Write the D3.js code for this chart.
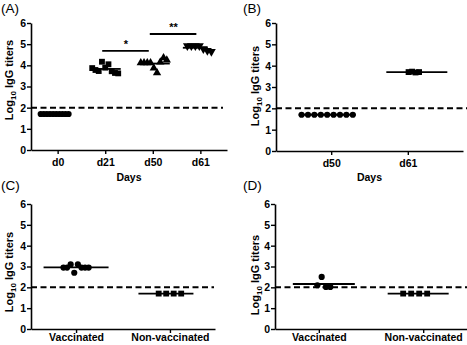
<!DOCTYPE html>
<html>
<head>
<meta charset="utf-8">
<script src="https://cdn.jsdelivr.net/npm/d3@7"></script>
<style>
  html, body { margin: 0; padding: 0; background: #fff; }
  svg { display: block; font-family: "Liberation Sans", Arial, sans-serif; }
</style>
</head>
<body>
<svg id="chart" width="467" height="345"></svg>
<script>
// ---------- DATA ----------
const yTickValues = [0, 1, 2, 3, 4, 5, 6];
const cutoff = 2;

// Panel A
const daysA = ["d0", "d21", "d50", "d61"];
const a_d0  = [1.7, 1.7, 1.7, 1.7, 1.7, 1.7, 1.7, 1.7, 1.7, 1.7];
const a_d21 = [3.87, 3.78, 3.73, 4.17, 3.89, 4.05, 3.72, 3.64, 3.62];
const a_d50 = [4.12, 4.12, 4.12, 4.12, 3.87, 3.65, 4.15, 4.35, 4.25];
const a_d61 = [4.92, 4.92, 4.92, 4.92, 4.78, 4.70, 4.65];
const sigFrom  = ["d21", "d50"];
const sigTo    = ["d50", "d61"];
const sigLevel = [4.68, 5.48];
const sigLabel = ["*", "**"];

// Panel B
const daysB = ["d50", "d61"];
const b_d50 = [1.7, 1.7, 1.7, 1.7, 1.7, 1.7, 1.7, 1.7, 1.7];
const b_d61 = [3.70, 3.72, 3.68, 3.70];

// Panels C and D
const groupsCD = ["Vaccinated", "Non-vaccinated"];
const c_vacc    = [2.95, 2.95, 3.10, 2.70, 3.10, 2.95, 2.95, 2.95];
const c_nonvacc = [1.7, 1.7, 1.7, 1.7];
const d_vacc    = [2.10, 2.50, 2.02, 2.02];
const d_nonvacc = [1.7, 1.7, 1.7, 1.7];

// ---------- DRAWING ----------
const svg = d3.select("#chart");

const shapes = {
  circle:  { type: d3.symbolCircle,   size: 30, rot: 0 },
  square:  { type: d3.symbolSquare,   size: 34, rot: 0 },
  tri:     { type: d3.symbolTriangle, size: 30, rot: 0 },
  invtri:  { type: d3.symbolTriangle, size: 34, rot: 180 }
};

function drawPanel(cfg) {
  const g = svg.append("g");
  const x = d3.scalePoint().domain(cfg.cats).range([cfg.x0, cfg.x1]).padding(cfg.pad);
  const y = d3.scaleLinear().domain([0, 6]).range([cfg.yb, cfg.yt]);

  // panel label
  g.append("text").attr("x", cfg.labelX).attr("y", cfg.labelY)
    .attr("font-size", 13.5).attr("fill", "#000").text(cfg.label);

  // y axis
  const ya = g.append("g").attr("transform", `translate(${cfg.x0},0)`)
    .call(d3.axisLeft(y).tickValues(yTickValues).tickFormat(d3.format("d")).tickSize(4).tickSizeOuter(0));
  ya.select(".domain").attr("stroke-width", 1.6);
  ya.selectAll(".tick line").attr("stroke-width", 1.4);
  ya.selectAll(".tick text").attr("font-size", 10.5).attr("font-weight", "bold")
    .attr("font-family", "Liberation Sans, Arial, sans-serif").attr("x", -5);

  // x axis
  const xa = g.append("g").attr("transform", `translate(0,${cfg.yb})`)
    .call(d3.axisBottom(x).tickSize(4).tickSizeOuter(0));
  xa.select(".domain").attr("stroke-width", 1.6);
  xa.selectAll(".tick line").attr("stroke-width", 1.4);
  xa.selectAll(".tick text").attr("font-size", 10.5).attr("font-weight", "bold")
    .attr("font-family", "Liberation Sans, Arial, sans-serif").attr("dy", cfg.tickDy);

  // x title
  if (cfg.xTitle) {
    g.append("text").attr("x", (cfg.x0 + cfg.x1) / 2).attr("y", cfg.xTitleY)
      .attr("text-anchor", "middle").attr("font-size", 10.5).attr("font-weight", "bold")
      .text(cfg.xTitle);
  }

  // y title
  const yt = g.append("text")
    .attr("transform", `translate(${cfg.yTitleX},${cfg.yTitleY}) rotate(-90)`)
    .attr("text-anchor", "middle").attr("font-size", 11).attr("font-weight", "bold");
  yt.append("tspan").text("Log");
  yt.append("tspan").attr("font-size", 8).attr("dy", 2.5).text("10");
  yt.append("tspan").attr("dy", -2.5).text(" IgG titers");

  // dashed cutoff line
  g.append("line").attr("x1", cfg.x0).attr("x2", cfg.dashEnd)
    .attr("y1", y(cutoff)).attr("y2", y(cutoff))
    .attr("stroke", "#000").attr("stroke-width", 2).attr("stroke-dasharray", "6,3.5");

  // groups
  cfg.groups.forEach(grp => {
    const cx = x(grp.cat) + grp.offset;
    const n = grp.values.length;
    const sh = shapes[grp.shape];
    const sym = d3.symbol().type(sh.type).size(sh.size);
    g.selectAll(null).data(grp.values).enter().append("path")
      .attr("d", sym)
      .attr("fill", "#000")
      .attr("transform", (d, i) => `translate(${cx + (i - (n - 1) / 2) * grp.spread},${y(d)}) rotate(${sh.rot})`);
    const m = d3.mean(grp.values);
    const lc = x(grp.cat) + grp.lineOffset;
    g.append("line").attr("x1", lc - grp.lineW / 2).attr("x2", lc + grp.lineW / 2)
      .attr("y1", y(m)).attr("y2", y(m)).attr("stroke", "#000").attr("stroke-width", 1.8);
  });

  // significance bars
  if (cfg.sig) {
    cfg.sig.forEach(s => {
      g.append("line").attr("x1", x(s.from) - 3).attr("x2", x(s.to) - 4)
        .attr("y1", y(s.level)).attr("y2", y(s.level))
        .attr("stroke", "#000").attr("stroke-width", 1.8);
      g.append("text").attr("x", (x(s.from) + x(s.to)) / 2 - 3).attr("y", y(s.level) - 3)
        .attr("text-anchor", "middle").attr("font-size", 11).attr("font-weight", "bold")
        .text(s.label);
    });
  }
}

const sigA = sigFrom.map((f, i) => ({ from: f, to: sigTo[i], level: sigLevel[i], label: sigLabel[i] }));

drawPanel({
  label: "(A)", labelX: 1, labelY: 13,
  cats: daysA, x0: 31, x1: 227, pad: 0.56, yt: 23, yb: 150, dashEnd: 223,
  tickDy: "0.85em", xTitle: "Days", xTitleY: 181,
  yTitleX: 13, yTitleY: 80,
  groups: [
    { cat: "d0",  values: a_d0,  shape: "circle", offset: -3, spread: 3.1, lineOffset: -2, lineW: 30 },
    { cat: "d21", values: a_d21, shape: "square", offset: 0,  spread: 3.25, lineOffset: 1, lineW: 29 },
    { cat: "d50", values: a_d50, shape: "tri",    offset: 1,  spread: 3.25, lineOffset: 3, lineW: 28 },
    { cat: "d61", values: a_d61, shape: "invtri", offset: -1, spread: 4,    lineOffset: -5, lineW: 25 }
  ],
  sig: sigA
});

drawPanel({
  label: "(B)", labelX: 243, labelY: 13,
  cats: daysB, x0: 276, x1: 463, pad: 0.72, yt: 23, yb: 151, dashEnd: 467,
  tickDy: "0.85em", xTitle: "Days", xTitleY: 181,
  yTitleX: 259, yTitleY: 86,
  groups: [
    { cat: "d50", values: b_d50, shape: "circle", offset: -4, spread: 6.4, lineOffset: -4, lineW: 57 },
    { cat: "d61", values: b_d61, shape: "square", offset: 6,  spread: 3.5, lineOffset: 9,  lineW: 61 }
  ]
});

drawPanel({
  label: "(C)", labelX: 1, labelY: 190,
  cats: groupsCD, x0: 31, x1: 215, pad: 0.48, yt: 204, yb: 329, dashEnd: 214,
  tickDy: "0.45em",
  yTitleX: 13, yTitleY: 272,
  groups: [
    { cat: "Vaccinated",     values: c_vacc,    shape: "circle", offset: 0, spread: 3.6, lineOffset: 0,  lineW: 65 },
    { cat: "Non-vaccinated", values: c_nonvacc, shape: "square", offset: 0, spread: 7.5, lineOffset: -4, lineW: 55 }
  ]
});

drawPanel({
  label: "(D)", labelX: 243, labelY: 190,
  cats: groupsCD, x0: 275, x1: 467, pad: 0.42, yt: 204, yb: 329, dashEnd: 467,
  tickDy: "0.45em",
  yTitleX: 259, yTitleY: 275,
  groups: [
    { cat: "Vaccinated",     values: d_vacc,    shape: "circle", offset: 5, spread: 4.3, lineOffset: 5, lineW: 62 },
    { cat: "Non-vaccinated", values: d_nonvacc, shape: "square", offset: -8, spread: 8, lineOffset: -5, lineW: 61 }
  ]
});
</script>
</body>
</html>
